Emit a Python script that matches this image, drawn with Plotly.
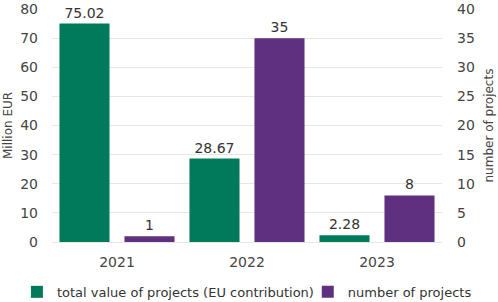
import plotly.graph_objects as go

years = ["2021", "2022", "2023"]
eu_value = [75.02, 28.67, 2.28]
n_projects = [1, 35, 8]
left_ticks = [0, 10, 20, 30, 40, 50, 60, 70, 80]
right_ticks = [0, 5, 10, 15, 20, 25, 30, 35, 40]

green = "#007A5A"
purple = "#5F2F80"
font = "DejaVu Sans"

fig = go.Figure()
fig.add_trace(go.Bar(
    x=years, y=eu_value, name="total value of projects (EU contribution)",
    marker_color=green, marker_line_width=0, offsetgroup="a", yaxis="y", legend="legend",
    text=[f"{v:.2f}" for v in eu_value], textposition="outside",
    textfont=dict(size=14, color="#333"), cliponaxis=False,
))
fig.add_trace(go.Bar(
    x=years, y=n_projects, name="number of projects",
    marker_color=purple, marker_line_width=0, offsetgroup="b", yaxis="y2", legend="legend2",
    text=[str(v) for v in n_projects], textposition="outside",
    textfont=dict(size=14, color="#333"), cliponaxis=False,
))

legend_common = dict(orientation="h", xref="container", yref="container",
                     xanchor="left", y=0.0335, yanchor="middle",
                     font=dict(size=13, color="#333"), itemwidth=30,
                     bgcolor="rgba(0,0,0,0)", borderwidth=0)

fig.update_layout(
    template="none",
    width=498, height=302,
    margin=dict(l=52, r=56, t=9, b=60, autoexpand=False),
    paper_bgcolor="white", plot_bgcolor="white",
    font=dict(family=font, size=14, color="#444"),
    barmode="group", bargap=0.0, bargroupgap=0.23,
    showlegend=True,
    legend=dict(legend_common, x=0.034),
    legend2=dict(legend_common, x=0.618),
    xaxis=dict(showgrid=False, ticks="", showline=False, zeroline=False,
               tickfont=dict(size=14), ticklabelstandoff=10, automargin=False),
    yaxis=dict(range=[0, 80.001], tickvals=left_ticks, showgrid=True, gridcolor="#e6e6e6",
               gridwidth=1, ticks="", showline=False,
               zeroline=True, zerolinecolor="#e6e6e6", zerolinewidth=1,
               tickfont=dict(size=14), ticklabelstandoff=13, automargin=False),
    yaxis2=dict(range=[0, 40.0005], tickvals=right_ticks, overlaying="y", side="right",
                showgrid=False, zeroline=False, ticks="", showline=False,
                tickfont=dict(size=14), ticklabelstandoff=14, automargin=False),
    annotations=[
        dict(text="Million EUR", xref="paper", yref="paper", x=(7.5 - 52) / 390, y=0.5,
             xanchor="center", yanchor="middle", textangle=-90, showarrow=False,
             font=dict(size=12, color="#444")),
        dict(text="number of projects", xref="paper", yref="paper", x=(488 - 52) / 390, y=0.5,
             xanchor="center", yanchor="middle", textangle=-90, showarrow=False,
             font=dict(size=12, color="#444")),
    ],
)

fig.write_html("out.html",
               config={"displayModeBar": False},
               post_script="document.body.style.margin='0';document.body.style.padding='0';")
